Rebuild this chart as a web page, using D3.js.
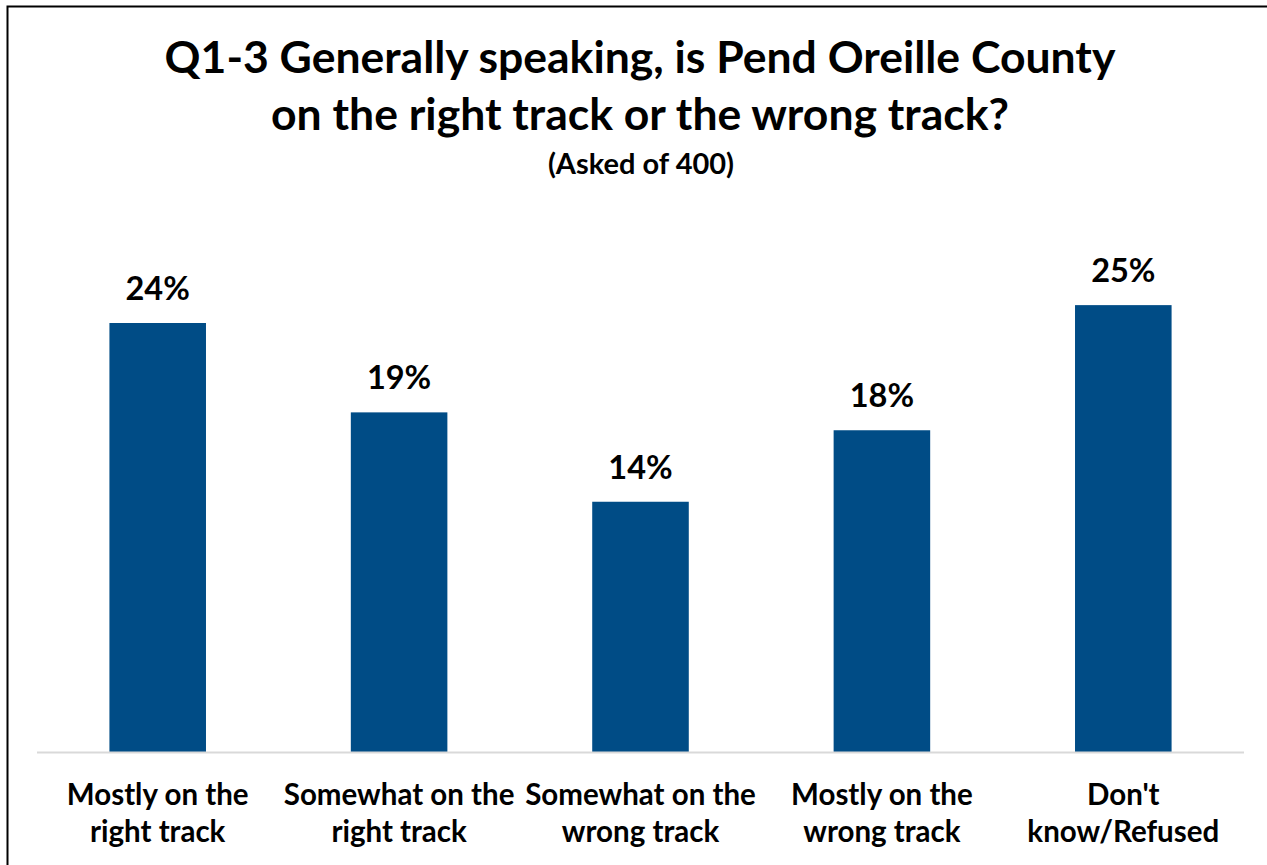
<!DOCTYPE html>
<html><head><meta charset="utf-8">
<script src="https://cdn.jsdelivr.net/npm/d3@7"></script>
<style>body{margin:0;background:#fff;} text{font-family:Lato,"Open Sans",sans-serif;font-weight:bold;fill:#000;}</style>
</head><body>
<svg id="c" width="1267" height="865"></svg>
<script>
const categories = [["Mostly on the","right track"],["Somewhat on the","right track"],["Somewhat on the","wrong track"],["Mostly on the","wrong track"],["Don't","know/Refused"]];
const values = [24, 19, 14, 18, 25];
const valueLabels = ["24%","19%","14%","18%","25%"];
const titleLines = ["Q1-3 Generally speaking, is Pend Oreille County","on the right track or the wrong track?"];
const subtitle = "(Asked of 400)";

const svg = d3.select("#c");
svg.append("rect").attr("x",7.5).attr("y",6.5).attr("width",1300).attr("height",900)
  .attr("fill","none").attr("stroke","#000").attr("stroke-width",2);

const x = d3.scaleBand().domain(d3.range(values.length)).range([37,1244]).paddingInner(0.6).paddingOuter(0.3);
const y = d3.scaleLinear().domain([0,30]).range([752, 752-17.875*30]);

svg.selectAll("rect.bar").data(values).join("rect").attr("class","bar")
  .attr("x",(d,i)=>x(i)).attr("width",x.bandwidth())
  .attr("y",d=>y(d)).attr("height",d=>y(0)-y(d)).attr("fill","#004C86");

svg.append("line").attr("x1",37).attr("x2",1244).attr("y1",752.5).attr("y2",752.5)
  .attr("stroke","#d9d9d9").attr("stroke-width",2);

svg.selectAll("text.val").data(values).join("text").attr("class","val")
  .attr("x",(d,i)=>x(i)+x.bandwidth()/2).attr("y",d=>y(d)-23)
  .attr("text-anchor","middle").style("font-size","32.5px").text((d,i)=>valueLabels[i]);

const cat = svg.selectAll("text.cat").data(categories).join("text").attr("class","cat")
  .attr("text-anchor","middle").style("font-size","29.5px");
cat.each(function(d,i){
  const t = d3.select(this);
  d.forEach((line,j)=>t.append("tspan").attr("x",x(i)+x.bandwidth()/2).attr("y",805+j*37).text(line));
});

svg.selectAll("text.title").data(titleLines).join("text").attr("class","title")
  .attr("x",640).attr("y",(d,i)=>73+i*57).attr("text-anchor","middle").style("font-size","44.5px").text(d=>d);
svg.append("text").attr("x",641).attr("y",174).attr("text-anchor","middle").style("font-size","29px").text(subtitle);
</script>
</body></html>
